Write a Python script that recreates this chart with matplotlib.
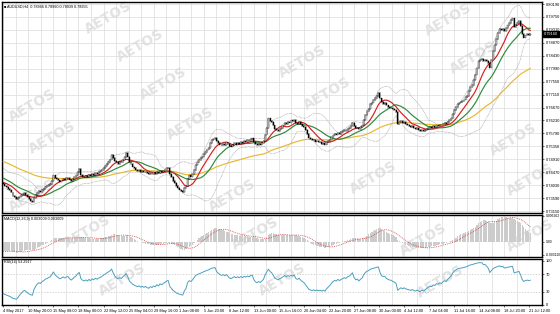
import numpy as np
import pandas as pd
import matplotlib
matplotlib.use("Agg")
import matplotlib.pyplot as plt
import matplotlib.transforms as mtransforms

# ---------------- data ----------------
symbol_title = "AUDUSD,H4  0.78946 0.78960 0.78939 0.78955"
macd_title = "MACD(12,26,9) 0.003009 0.003009"
rsi_title = "RSI(14) 53.2917"

# closes before the first visible bar (only used to warm up the indicators)
prior_close_pips = [
    7540, 7548, 7545, 7552, 7556, 7550, 7544, 7538, 7530, 7527,
    7522, 7518, 7525, 7530, 7524, 7516, 7510, 7505, 7500, 7496,
    7502, 7508, 7514, 7520, 7512, 7504, 7498, 7492, 7488, 7480,
    7470, 7462, 7455, 7450, 7444, 7440, 7446, 7438, 7432, 7428,
    7424, 7420, 7416, 7420, 7414, 7410, 7406, 7412, 7408, 7410,
]
close_pips = [
    7406, 7400, 7396, 7391, 7386, 7378, 7365, 7362, 7356, 7359,
    7364, 7368, 7372, 7375, 7370, 7362, 7355, 7349, 7346, 7360,
    7369, 7377, 7382, 7379, 7386, 7390, 7396, 7399, 7403, 7406,
    7418, 7436, 7428, 7423, 7419, 7415, 7419, 7424, 7421, 7426,
    7428, 7422, 7418, 7424, 7430, 7436, 7448, 7457, 7438, 7432,
    7429, 7434, 7430, 7437, 7433, 7441, 7438, 7445, 7442, 7447,
    7450, 7455, 7462, 7468, 7474, 7482, 7490, 7507, 7496, 7486,
    7480, 7476, 7483, 7480, 7490, 7498, 7511, 7500, 7482, 7474,
    7466, 7460, 7456, 7452, 7455, 7448, 7451, 7446, 7449, 7443,
    7440, 7445, 7441, 7446, 7442, 7449, 7444, 7451, 7447, 7452,
    7455, 7460, 7462, 7440, 7430, 7418, 7410, 7400, 7393, 7388,
    7384, 7380, 7392, 7400, 7425, 7436, 7432, 7441, 7455, 7472,
    7480, 7488, 7494, 7500, 7510, 7516, 7524, 7530, 7545, 7556,
    7560, 7565, 7552, 7546, 7541, 7538, 7544, 7540, 7548, 7542,
    7536, 7534, 7540, 7545, 7541, 7547, 7544, 7550, 7547, 7553,
    7551, 7556, 7554, 7560, 7562, 7550, 7543, 7540, 7544, 7541,
    7546, 7553, 7575, 7598, 7630, 7622, 7617, 7606, 7594, 7590,
    7586, 7593, 7598, 7606, 7615, 7610, 7619, 7616, 7623, 7621,
    7626, 7614, 7611, 7617, 7610, 7604, 7600, 7590, 7578, 7565,
    7560, 7555, 7558, 7551, 7554, 7548, 7550, 7544, 7547, 7541,
    7548, 7553, 7558, 7566, 7572, 7577, 7575, 7582, 7578, 7583,
    7586, 7590, 7588, 7595, 7598, 7605, 7616, 7603, 7596, 7599,
    7593, 7600, 7606, 7625, 7642, 7654, 7662, 7678, 7684, 7692,
    7700, 7707, 7716, 7698, 7685, 7680, 7683, 7674, 7670, 7667,
    7666, 7661, 7658, 7652, 7611, 7617, 7622, 7615, 7619, 7612,
    7608, 7605, 7601, 7604, 7597, 7594, 7597, 7590, 7588, 7592,
    7587, 7590, 7594, 7597, 7600, 7598, 7603, 7601, 7606, 7604,
    7608, 7606, 7611, 7614, 7612, 7619, 7624, 7630, 7645, 7658,
    7668, 7680, 7684, 7687, 7690, 7694, 7702, 7707, 7724, 7736,
    7744, 7760, 7779, 7800, 7826, 7830, 7832, 7826, 7829, 7824,
    7818, 7803, 7830, 7858, 7880, 7899, 7920, 7933, 7930, 7935,
    7928, 7938, 7946, 7955, 7964, 7970, 7942, 7948, 7954, 7961,
    7945, 7918, 7905, 7912, 7916, 7913, 7916,
]
wick_pips = 3

time_labels = ["4 May 2017", "10 May 20:00", "15 May 08:00", "18 May 00:00",
               "22 May 12:00", "25 May 04:00", "29 May 16:00", "1 Jun 08:00",
               "5 Jun 20:00", "8 Jun 12:00", "13 Jun 00:00", "15 Jun 16:00",
               "20 Jun 04:00", "22 Jun 20:00", "27 Jun 08:00", "30 Jun 00:00",
               "4 Jul 12:00", "7 Jul 04:00", "11 Jul 16:00", "14 Jul 08:00",
               "18 Jul 20:00", "21 Jul 12:00"]
bars_per_label = 15.5

price_ticks = [0.73150, 0.73590, 0.74030, 0.74470, 0.74910, 0.75350, 0.75790,
               0.76230, 0.76670, 0.77110, 0.77550, 0.77990, 0.78430, 0.78870,
               0.79310, 0.79750, 0.80190]
macd_ticks = [-0.003110, 0.0, 0.006262]
macd_tick_labels = ["-0.003110", "0.00", "0.006262"]
rsi_ticks = [0, 30, 70, 100]

# ---------------- indicators ----------------
n_prior = len(prior_close_pips)
close_all = pd.Series(prior_close_pips + close_pips, dtype=float) / 10000.0

ma_fast_all = close_all.rolling(10, min_periods=1).mean()
ma_mid_all = close_all.rolling(20, min_periods=1).mean()
ma_slow_all = close_all.ewm(span=75, adjust=False).mean()
bb_std_all = close_all.rolling(20, min_periods=1).std(ddof=0)

ema12 = close_all.ewm(span=12, adjust=False).mean()
ema26 = close_all.ewm(span=26, adjust=False).mean()
macd_all = ema12 - ema26
signal_all = macd_all.rolling(9, min_periods=1).mean()

delta = close_all.diff()
gain = delta.clip(lower=0).ewm(alpha=1 / 14, adjust=False).mean()
loss = (-delta.clip(upper=0)).ewm(alpha=1 / 14, adjust=False).mean()
rsi_all = 100 - 100 / (1 + gain / loss.replace(0, np.nan))


def vis(s):
    return s.iloc[n_prior:].reset_index(drop=True)


close = vis(close_all)
opens = vis(close_all.shift(1))
ma_fast, ma_mid, ma_slow = vis(ma_fast_all), vis(ma_mid_all), vis(ma_slow_all)
bb_up = ma_mid + 2 * vis(bb_std_all)
bb_dn = ma_mid - 2 * vis(bb_std_all)
macd, signal, rsi = vis(macd_all), vis(signal_all), vis(rsi_all)

wick = wick_pips / 10000.0
highs = np.maximum(opens, close) + wick
lows = np.minimum(opens, close) - wick
n = len(close)
x = np.arange(n)

# ---------------- figure ----------------
W, H = 560, 314
fig = plt.figure(figsize=(W / 100, H / 100), dpi=100)
fig.patch.set_facecolor("white")
plt.rcParams["font.family"] = ["Liberation Sans", "DejaVu Sans"]

L, R = 2 / W, 542 / W


def box(top, bot):
    return [L, 1 - bot / H, R - L, (bot - top) / H]


ax1 = fig.add_axes(box(2, 212.5))
ax2 = fig.add_axes(box(214.5, 256.5))
ax3 = fig.add_axes(box(258.5, 305))

# watermark
wm_pos = [(108, 18), (140, 46), (32, 106), (52, 138), (163, 84), (190, 124),
          (302, 62), (327, 94), (373, 178), (232, 196), (448, 20), (473, 58),
          (513, 140), (530, 180), (87, 232), (122, 280), (255, 234), (282, 280),
          (423, 240), (440, 282), (32, 196), (530, 236)]
for (px, py) in wm_pos:
    fig.text(px / W, 1 - py / H, "AETOS", rotation=30, color="#e2e2e2",
             fontsize=10, fontweight="bold", ha="center", va="center",
             family="DejaVu Sans", zorder=-1)

grid_pos = np.arange(0, n + 10, bars_per_label / 2)
tick_pos = np.arange(len(time_labels)) * bars_per_label
xlim = (-0.8, 329.3)

for ax in (ax1, ax2, ax3):
    ax.set_facecolor("none")
    ax.set_xlim(*xlim)
    for s in ax.spines.values():
        s.set_linewidth(1.0)
        s.set_color("black")
    ax.set_xticks(grid_pos, minor=True)
    ax.grid(True, which="minor", axis="x", color="#dcdcdc", lw=0.5)
    ax.yaxis.tick_right()
    ax.tick_params(axis="y", labelsize=2.9, length=1.5, width=0.4, pad=1.2)
    ax.tick_params(axis="x", which="both", length=0)

# ---- main panel ----
ax1.set_ylim(0.73099, 0.80259)
ax1.set_yticks(price_ticks)
ax1.set_yticklabels([f"{v:.5f}" for v in price_ticks])
ax1.grid(True, which="major", axis="y", color="#dcdcdc", lw=0.5)
ax1.set_xticks([])

ax1.plot(x, bb_up, color="#9a9a9a", lw=0.5, ls=(0, (1, 1)), zorder=2)
ax1.plot(x, bb_dn, color="#9a9a9a", lw=0.5, ls=(0, (1, 1)), zorder=2)
ax1.plot(x, ma_slow, color="#e8b830", lw=0.85, zorder=3)
ax1.plot(x, ma_mid, color="#2e8b3a", lw=0.85, zorder=3)
ax1.plot(x, ma_fast, color="#d42020", lw=0.85, zorder=3)

ax1.vlines(x, lows, highs, color="black", lw=0.35, zorder=4)
bull = (close >= opens).to_numpy()
body_bot = np.minimum(opens, close).to_numpy()
body_h = np.maximum(np.abs(close - opens), 0.00003).to_numpy()
ax1.bar(x[bull], body_h[bull], bottom=body_bot[bull], width=0.6,
        color="white", edgecolor="black", lw=0.25, zorder=5)
ax1.bar(x[~bull], body_h[~bull], bottom=body_bot[~bull], width=0.6,
        color="black", edgecolor="black", lw=0.25, zorder=5)

last = close.iloc[-1]
trans = mtransforms.blended_transform_factory(ax1.transAxes, ax1.transData)
ax1.text(1.004, last, f"{last:.5f}", transform=trans, fontsize=2.8,
         color="white", ha="left", va="center",
         bbox=dict(boxstyle="square,pad=0.25", fc="black", ec="black"))
ax1.text(0.004, 0.988, "\u25a0 " + symbol_title, transform=ax1.transAxes,
         fontsize=2.7, ha="left", va="top", color="black")

# ---- MACD panel ----
ax2.set_ylim(-0.00347, 0.0065)
ax2.set_yticks(macd_ticks)
ax2.set_yticklabels(macd_tick_labels)
ax2.tick_params(axis="y", labelsize=2.4)
ax2.set_xticks([])
ax2.bar(x, macd, width=0.8, color="#cccccc", edgecolor="none", zorder=2)
ax2.plot(x, signal, color="#d04040", lw=0.6, ls=(0, (1, 1.2)), zorder=3)
ax2.text(0.004, 0.95, macd_title, transform=ax2.transAxes, fontsize=2.7,
         ha="left", va="top", color="black")

# ---- RSI panel ----
ax3.set_ylim(-0.5, 105.5)
ax3.set_yticks(rsi_ticks)
ax3.set_yticklabels([str(v) for v in rsi_ticks])
for lv in (30, 70):
    ax3.axhline(lv, color="#c4c4c4", lw=0.5, ls=(0, (2, 2)), zorder=1)
ax3.plot(x, rsi, color="#4aa0c0", lw=0.7, zorder=3)
ax3.text(0.004, 0.96, rsi_title, transform=ax3.transAxes, fontsize=2.7,
         ha="left", va="top", color="black")
ax3.set_xticks(tick_pos)
ax3.set_xticklabels(time_labels)
ax3.tick_params(axis="x", which="major", labelsize=2.8, length=1.5,
                width=0.4, pad=1.5, direction="out")
for lab in ax3.get_xticklabels():
    lab.set_horizontalalignment("left")

fig.savefig("out.png", dpi=100, facecolor="white")
